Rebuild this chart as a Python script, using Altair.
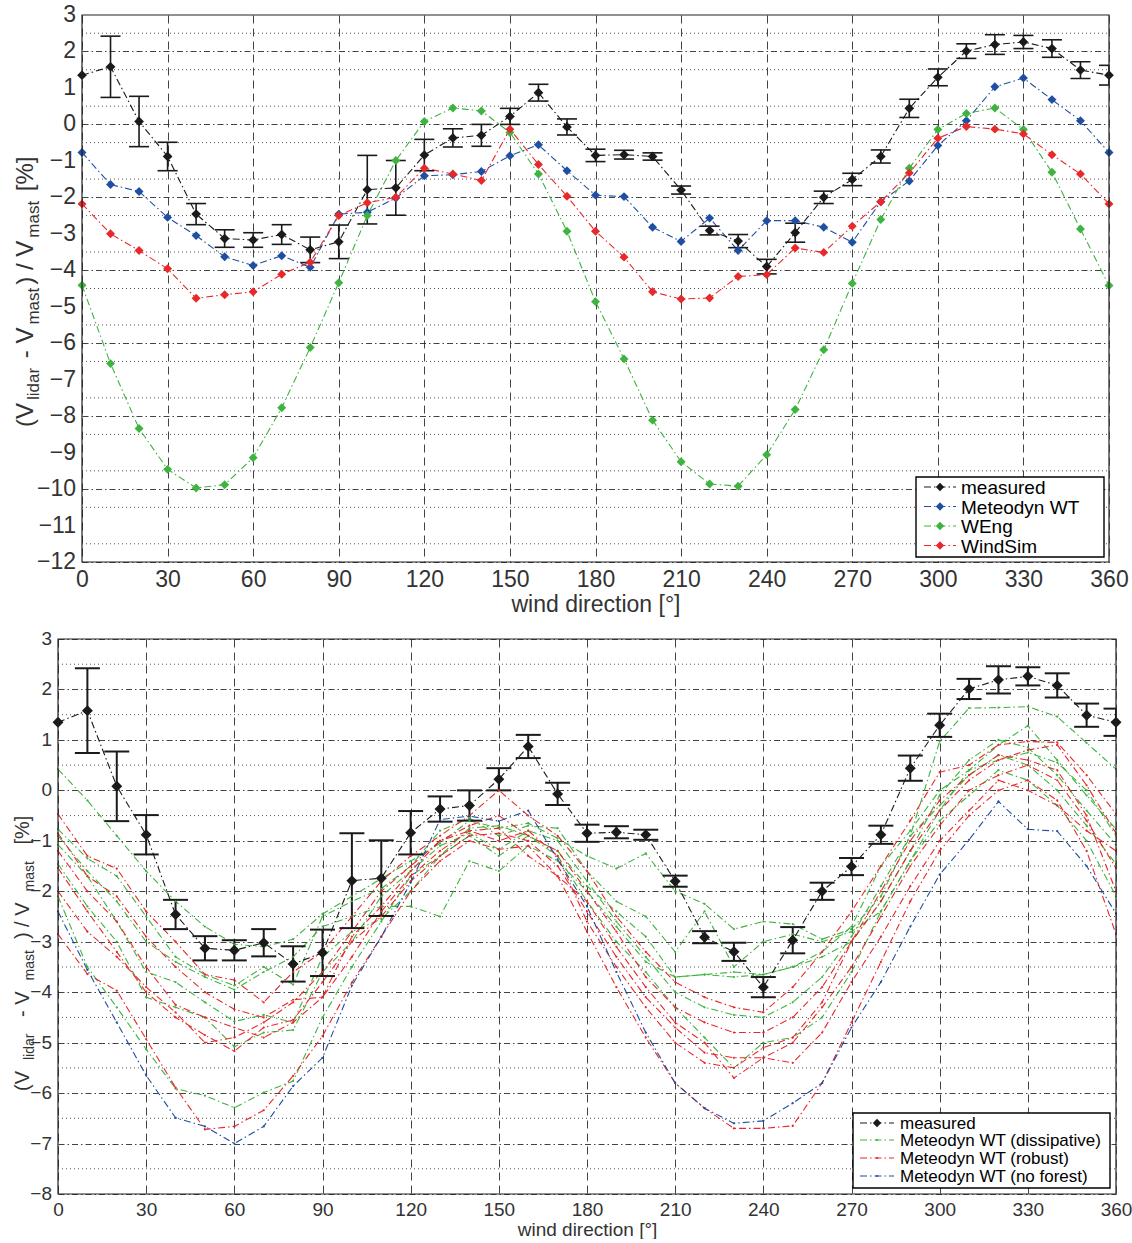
import altair as alt
import pandas as pd

# ---------------------------------------------------------------- data
directions = [0, 10, 20, 30, 40, 50, 60, 70, 80, 90, 100, 110, 120, 130, 140, 150,
              160, 170, 180, 190, 200, 210, 220, 230, 240, 250, 260, 270, 280, 290,
              300, 310, 320, 330, 340, 350, 360]

measured = [1.35, 1.58, 0.08, -0.88, -2.46, -3.13, -3.17, -3.02, -3.44, -3.22, -1.79,
            -1.74, -0.84, -0.37, -0.30, 0.22, 0.87, -0.07, -0.85, -0.83, -0.88, -1.80,
            -2.91, -3.20, -3.90, -2.97, -2.00, -1.51, -0.88, 0.44, 1.29, 2.01, 2.19,
            2.26, 2.08, 1.49, 1.35]
measured_err = [None, 0.84, 0.69, 0.39, 0.29, 0.24, 0.20, 0.27, 0.35, 0.46, 0.94,
                0.75, 0.43, 0.25, 0.30, 0.22, 0.23, 0.22, 0.17, 0.12, 0.10, 0.11,
                0.12, 0.18, 0.20, 0.26, 0.17, 0.17, 0.18, 0.25, 0.23, 0.20, 0.27,
                0.18, 0.24, 0.23, 0.27]

meteodyn = [-0.77, -1.65, -1.84, -2.55, -3.05, -3.63, -3.87, -3.60, -3.92, -2.46, -2.41,
            -2.02, -1.41, -1.38, -1.29, -0.86, -0.56, -1.27, -1.94, -1.98, -2.82, -3.21,
            -2.57, -3.46, -2.64, -2.64, -2.82, -3.23, -2.12, -1.55, -0.58, 0.10, 1.03,
            1.27, 0.68, 0.10, -0.77]
weng = [-4.41, -6.56, -8.34, -9.46, -9.97, -9.88, -9.14, -7.77, -6.12, -4.34, -2.50,
        -0.99, 0.08, 0.45, 0.37, -0.22, -1.36, -2.93, -4.86, -6.43, -8.11, -9.25, -9.86,
        -9.92, -9.06, -7.82, -6.18, -4.36, -2.61, -1.20, -0.14, 0.30, 0.45, -0.14, -1.31,
        -2.87, -4.42]
windsim = [-2.18, -3.00, -3.46, -3.96, -4.77, -4.67, -4.59, -4.11, -3.78, -2.50, -2.15,
           -2.00, -1.20, -1.36, -1.54, -0.13, -1.10, -1.97, -2.93, -3.64, -4.59, -4.79,
           -4.76, -4.17, -4.12, -3.39, -3.51, -2.79, -2.12, -1.33, -0.38, -0.06, -0.13,
           -0.26, -0.83, -1.36, -2.18]

# Meteodyn WT runs with the dissipative forest model
dissipative = [
    [0.42, -0.20, -0.90, -1.60, -2.20, -2.70, -3.05, -3.10, -2.95, -2.45, -2.10, -1.75,
     -1.40, -1.05, -0.60, -0.75, -0.65, -0.95, -1.30, -1.55, -1.25, -2.00, -2.25, -2.75,
     -2.60, -2.65, -2.95, -2.75, -2.10, -0.90, 0.97, 1.63, 1.64, 1.66, 1.46, 0.94, 0.42],
    [-0.77, -1.35, -1.70, -2.50, -3.30, -3.65, -3.87, -3.50, -3.85, -2.50, -2.20, -1.95,
     -1.50, -0.80, -0.55, -0.90, -0.70, -0.75, -1.60, -2.20, -2.50, -3.20, -2.40, -3.50,
     -3.00, -2.85, -3.00, -2.80, -2.40, -1.40, -0.40, 0.40, 0.90, 1.28, 0.60, -0.10, -0.77],
    [-1.08, -1.70, -2.60, -3.60, -3.80, -4.20, -4.58, -4.45, -4.60, -3.30, -2.80, -2.55,
     -2.00, -1.30, -0.75, -0.70, -0.90, -1.20, -1.90, -2.40, -2.90, -3.70, -3.65, -3.60,
     -3.65, -3.50, -3.30, -3.00, -2.20, -1.20, -0.10, 0.60, 1.00, 0.85, 0.30, -0.40, -1.08],
    [-1.46, -2.30, -3.00, -4.10, -4.30, -4.50, -5.08, -4.80, -4.75, -3.60, -3.00, -2.10,
     -1.60, -1.10, -0.85, -1.17, -0.80, -1.00, -1.80, -2.60, -3.30, -4.00, -4.30, -4.45,
     -4.50, -4.20, -3.70, -2.90, -1.90, -0.90, -0.30, 0.30, 0.70, 0.50, 0.00, -0.70, -1.46],
    [-2.10, -3.50, -4.30, -5.13, -5.91, -6.05, -6.29, -5.99, -5.76, -4.50, -3.50, -2.60,
     -1.70, -1.30, -0.90, -1.30, -0.90, -1.30, -2.20, -3.00, -3.60, -4.30, -4.90, -5.50,
     -5.00, -4.90, -4.50, -3.60, -2.40, -1.40, -0.60, -0.10, 0.40, 0.20, -0.30, -1.00, -2.10],
    [-0.90, -1.60, -2.20, -3.00, -3.40, -3.70, -3.95, -3.60, -3.30, -2.70, -2.50, -2.30,
     -2.30, -2.50, -1.40, -1.60, -1.10, -1.40, -2.00, -2.70, -3.40, -3.70, -3.65, -3.70,
     -3.65, -3.50, -3.20, -2.70, -1.50, -0.80, 0.00, 0.40, 0.60, 0.75, 0.55, 0.00, -0.90],
]

# Meteodyn WT runs with the robust forest model
robust = [
    [-0.47, -1.30, -1.55, -2.40, -3.00, -3.65, -3.76, -4.20, -3.60, -3.20, -2.50, -1.80,
     -1.30, -0.90, -0.50, 0.00, -0.50, -0.90, -1.60, -2.50, -3.20, -3.80, -4.10, -4.30,
     -4.40, -3.90, -3.20, -2.40, -1.50, -0.60, 0.36, 0.50, 0.90, 0.97, 0.95, 0.30, -0.47],
    [-0.85, -1.70, -2.10, -2.90, -3.50, -4.00, -4.34, -4.50, -4.15, -4.10, -2.90, -2.30,
     -1.60, -1.00, -0.70, -0.50, -0.90, -1.20, -2.00, -2.80, -3.70, -4.30, -4.60, -4.80,
     -4.80, -4.50, -3.90, -3.00, -2.20, -1.20, -0.40, 0.20, 0.60, 0.80, 0.90, 0.10, -0.85],
    [-1.54, -2.40, -3.20, -4.00, -4.50, -4.85, -5.17, -4.70, -4.55, -3.80, -3.00, -2.50,
     -1.80, -1.30, -0.90, -0.85, -1.00, -1.50, -2.40, -3.30, -4.10, -4.70, -5.20, -5.30,
     -5.30, -5.00, -4.30, -3.50, -2.50, -1.50, -0.70, 0.00, 0.30, 0.50, 0.20, -0.60, -1.54],
    [-2.85, -3.64, -3.97, -4.93, -5.89, -6.72, -6.66, -6.34, -5.66, -4.87, -3.81, -2.90,
     -2.00, -1.40, -1.00, -1.17, -1.10, -1.70, -2.80, -3.90, -4.90, -5.80, -6.30, -6.70,
     -6.70, -6.65, -5.80, -4.60, -3.40, -2.20, -1.20, -0.50, 0.00, 0.20, -0.20, -1.20, -2.85],
    [-1.20, -2.00, -2.60, -3.50, -4.25, -4.50, -4.70, -4.90, -4.60, -4.10, -3.30, -2.40,
     -1.70, -1.20, -0.80, -0.75, -1.30, -1.70, -2.20, -3.10, -3.90, -4.60, -5.00, -5.70,
     -5.30, -5.40, -4.80, -3.80, -2.90, -1.90, -1.00, -0.40, 0.20, 0.00, -0.30, -0.80, -1.20],
    [-2.00, -2.80, -3.30, -3.90, -4.40, -5.00, -4.90, -4.60, -4.20, -3.60, -2.80, -2.00,
     -1.50, -1.00, -0.80, -1.00, -0.80, -1.30, -2.60, -3.50, -4.30, -5.00, -5.40, -5.50,
     -5.10, -4.90, -4.20, -3.00, -2.00, -1.00, -0.20, 0.30, 0.70, 0.60, 0.40, -0.50, -2.00],
]

# Meteodyn WT run without forest
no_forest = [-2.40, -3.56, -4.60, -5.65, -6.49, -6.66, -7.00, -6.66, -5.86, -5.30, -3.87,
             -2.90, -1.83, -0.58, -0.51, -0.61, -0.40, -1.37, -2.30, -3.60, -4.80, -5.80,
             -6.30, -6.60, -6.55, -6.20, -5.80, -4.70, -3.80, -2.70, -1.67, -0.98, -0.22,
             -0.77, -0.81, -1.50, -2.44]

x_ticks = [0, 30, 60, 90, 120, 150, 180, 210, 240, 270, 300, 330, 360]
top_y_ticks = list(range(-12, 4))
bottom_y_ticks = list(range(-8, 4))

# ---------------------------------------------------------------- style
FONT = "Liberation Sans"
TXT = "#333333"
BLACK = "#1a1a1a"
BLUE = "#1f4fa3"
GREEN = "#3fb33f"
RED = "#e8292b"
DASHDOT = [7, 3, 1.5, 3]

# both panels share one group width; the upper plot area is inset inside it
GROUP_W = 1058
TOP_X0, TOP_X1, TOP_H = 24, 1051, 547
BOT_H = 555

one_row = pd.DataFrame({"k": [0]})

# Arial/Liberation Sans advance widths (em) used to lay out the composite axis title
ADV = {"(": .333, ")": .333, "V": .667, "l": .222, "i": .222, "d": .556, "a": .556,
       "r": .333, " ": .278, "-": .333, "m": .833, "s": .5, "t": .278, "/": .278,
       "[": .278, "]": .278, "%": .889}


def adv(s, size):
    return sum(ADV.get(c, .556) for c in s) * size


TITLE_PIECES = [("(V", False), ("lidar", True), (" - V", False), ("mast", True),
                (") / V", False), ("mast", True), (" [%]", False)]


def y_title(x_base, y_start, big, small, shift, gap):
    """Rotated axis title with subscripts, built from text pieces."""
    layers = []
    y = y_start
    for txt, sub in TITLE_PIECES:
        size = small if sub else big
        lead = len(txt) - len(txt.lstrip(" "))
        ypos = y - adv(" " * lead, size)
        layers.append(
            alt.Chart(one_row).mark_text(
                text=txt.strip(), angle=270, align="left", baseline="alphabetic",
                font=FONT, fontSize=size, color=TXT
            ).encode(x=alt.value(x_base + (shift if sub else 0)), y=alt.value(ypos))
        )
        y -= adv(txt, size) + gap
    return layers


def legend(box, rows, x_line, x_text, size, entries):
    x0, x1, y0, y1 = box
    layers = [
        alt.Chart(one_row).mark_rect(fill="white", stroke="black", strokeWidth=1.4)
        .encode(x=alt.value(x0), x2=alt.value(x1), y=alt.value(y0), y2=alt.value(y1))
    ]
    for (label, color, diamond), ry in zip(entries, rows):
        layers.append(
            alt.Chart(one_row).mark_rule(color=color, strokeWidth=1.2, strokeDash=DASHDOT)
            .encode(x=alt.value(x_line[0]), x2=alt.value(x_line[1]), y=alt.value(ry))
        )
        mid = (x_line[0] + x_line[1]) / 2
        if diamond:
            layers.append(
                alt.Chart(one_row).mark_point(shape="diamond", filled=True, opacity=1,
                                              size=70, color=color)
                .encode(x=alt.value(mid), y=alt.value(ry))
            )
        else:
            layers.append(
                alt.Chart(one_row).mark_point(shape="circle", filled=True, opacity=1,
                                              size=5, color=color)
                .encode(x=alt.value(mid), y=alt.value(ry))
            )
        layers.append(
            alt.Chart(one_row).mark_text(text=label, align="left", baseline="middle",
                                         font=FONT, fontSize=size, color="black")
            .encode(x=alt.value(x_text), y=alt.value(ry + 1))
        )
    return layers


def tick_text(v):
    return str(v).replace("-", "\u2212")


def panel(font_size, y_domain, y_ticks, cap, err_width, diamond, lab_pad, title_pad,
          x0, x1, height, model_lines, model_points):
    """One framed plot: grid, model curves, measured points with error bars."""
    x_scale = alt.Scale(domain=[0, 360], nice=False, zero=False, range=[x0, x1])
    x_enc = alt.X("dir:Q", scale=x_scale,
                  axis=alt.Axis(values=x_ticks, title="wind direction [°]", grid=True,
                                gridDash=[8, 5], gridColor="#222", gridOpacity=0.85,
                                ticks=False, domain=False, labelFlush=False,
                                labelOverlap=False,
                                labelFont=FONT, labelFontSize=font_size, labelColor=TXT,
                                labelPadding=lab_pad, titleFont=FONT,
                                titleFontSize=font_size, titleFontWeight="normal",
                                titleColor=TXT, titlePadding=title_pad,
                                titleX=(x0 + x1) / 2))
    y_scale = alt.Scale(domain=y_domain, nice=False, zero=False)
    y_axis = alt.Axis(values=y_ticks, title=None, grid=True, gridDash=[6, 3, 1.5, 3],
                      gridColor="#222", gridOpacity=0.85, ticks=False, domain=False,
                      labels=False)

    minor = pd.DataFrame({"v": [t + 0.5 for t in y_ticks[:-1]]})
    labels = pd.DataFrame({"v": y_ticks, "lab": [tick_text(t) for t in y_ticks]})

    layers = [
        alt.Chart(minor).mark_rule(color="#555", strokeWidth=1, strokeDash=[1, 3])
        .encode(x=alt.value(x0), x2=alt.value(x1),
                y=alt.Y("v:Q", scale=y_scale, axis=y_axis)),
        alt.Chart(labels).mark_text(align="right", baseline="middle", font=FONT,
                                    fontSize=font_size, color=TXT)
        .encode(x=alt.value(x0 - 6), y=alt.Y("v:Q", scale=y_scale, axis=y_axis),
                text="lab:N"),
    ]
    for df, color, detail in model_lines:
        enc = dict(x=x_enc, y=alt.Y("val:Q", scale=y_scale, axis=y_axis))
        if detail:
            enc["detail"] = "run:N"
        layers.append(alt.Chart(df).mark_line(color=color, strokeWidth=1.1,
                                              strokeDash=DASHDOT).encode(**enc))

    mdf = pd.DataFrame({"dir": directions, "val": measured, "err": measured_err})
    mdf["lo"] = mdf["val"] - mdf["err"]
    mdf["hi"] = mdf["val"] + mdf["err"]
    edf = mdf.dropna()
    layers += [
        alt.Chart(mdf).mark_line(color=BLACK, strokeWidth=1.1, strokeDash=DASHDOT)
        .encode(x="dir:Q", y="val:Q"),
        alt.Chart(edf).mark_rule(color=BLACK, strokeWidth=err_width)
        .encode(x="dir:Q", y="lo:Q", y2="hi:Q"),
        alt.Chart(edf).mark_tick(color=BLACK, orient="horizontal", size=cap,
                                 thickness=err_width, opacity=1)
        .encode(x="dir:Q", y="lo:Q"),
        alt.Chart(edf).mark_tick(color=BLACK, orient="horizontal", size=cap,
                                 thickness=err_width, opacity=1)
        .encode(x="dir:Q", y="hi:Q"),
        # trims the error-bar caps that stick out past the right edge
        alt.Chart(one_row).mark_rect(fill="white")
        .encode(x=alt.value(x1 + 0.8), x2=alt.value(x1 + 13), y=alt.value(0),
                y2=alt.value(height)),
    ]
    for df, color, shape, size in model_points:
        layers.append(alt.Chart(df).mark_point(shape=shape, filled=True, opacity=1,
                                               size=size, color=color)
                      .encode(x="dir:Q", y="val:Q"))
    layers += [
        alt.Chart(mdf).mark_point(shape="diamond", filled=True, opacity=1, size=diamond,
                                  color=BLACK)
        .encode(x="dir:Q", y="val:Q"),
        alt.Chart(one_row).mark_rect(fill=None, stroke="#222", strokeWidth=1.2)
        .encode(x=alt.value(x0), x2=alt.value(x1), y=alt.value(0), y2=alt.value(height)),
    ]
    return layers


# ---------------------------------------------------------------- upper panel
top_lines, top_points = [], []
for values, color in [(meteodyn, BLUE), (weng, GREEN), (windsim, RED)]:
    sdf = pd.DataFrame({"dir": directions, "val": values})
    top_lines.append((sdf, color, False))
    top_points.append((sdf, color, "diamond", 80))

top_layers = panel(23, [-12, 3], top_y_ticks, 20, 1.6, 95, 6, 2,
                   TOP_X0, TOP_X1, TOP_H, top_lines, top_points)
L = TOP_X0
top_layers += legend((834 + L, 1022 + L, 462, 542), [472, 491.5, 511, 530.5],
                     (842 + L, 874 + L), 879 + L, 19,
                     [("measured", BLACK, True), ("Meteodyn WT", BLUE, True),
                      ("WEng", GREEN, True), ("WindSim", RED, True)])
top_layers += y_title(-49 + L, 412, 24, 17, 6, 3)

top = alt.layer(*top_layers).properties(
    width=GROUP_W, height=TOP_H, view=alt.ViewBackground(strokeOpacity=0))

# ---------------------------------------------------------------- lower panel
bot_lines, bot_points = [], []
for family, color in [(dissipative, GREEN), (robust, RED), ([no_forest], BLUE)]:
    rows = []
    for run, values in enumerate(family):
        for d, v in zip(directions, values):
            rows.append({"dir": d, "val": v, "run": run})
    fdf = pd.DataFrame(rows)
    bot_lines.append((fdf, color, True))
    bot_points.append((fdf, color, "circle", 5))

bot_layers = panel(19, [-8, 3], bottom_y_ticks, 25, 2, 120, 6, 1,
                   0, GROUP_W, BOT_H, bot_lines, bot_points)
bot_layers += legend((795, 1052, 474, 549), [484, 501, 519, 537], (802, 836), 842, 17,
                     [("measured", BLACK, True),
                      ("Meteodyn WT  (dissipative)", GREEN, False),
                      ("Meteodyn WT  (robust)", RED, False),
                      ("Meteodyn WT  (no forest)", BLUE, False)])
bot_layers += y_title(-29, 452, 20, 14, 5, 11)

bottom = alt.layer(*bot_layers).properties(
    width=GROUP_W, height=BOT_H, view=alt.ViewBackground(strokeOpacity=0))

chart = alt.vconcat(top, bottom, spacing=14).configure(
    padding={"left": 13, "top": 4, "right": 0, "bottom": 0}, background="white"
)

chart.save("out.html", embed_options={"renderer": "svg", "actions": False})
